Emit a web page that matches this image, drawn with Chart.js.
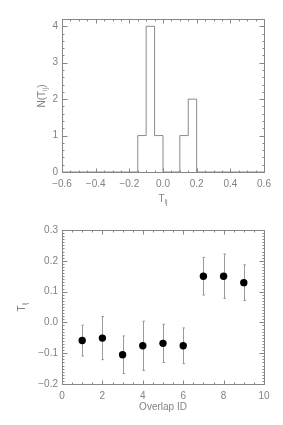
<!DOCTYPE html>
<html lang="en">
<head>
  <meta charset="UTF-8">
  <title>Overlap T_ij</title>
  <style>
    body {
      margin: 0;
      padding: 0;
      background: #fff;
      overflow: hidden;
    }
    canvas {
      position: absolute;
      left: 0;
    }
    #histChart { top: 0; }
    #overlapChart { top: 212px; }
  </style>
</head>
<body>
<canvas id="histChart" width="283" height="212"></canvas>
<canvas id="overlapChart" width="283" height="213"></canvas>

<script src="https://cdn.jsdelivr.net/npm/chart.js"></script>
<script>
  // histogram of T_ij (bin start -> count, stepped outline)
  const histEdges = [-0.6, -0.15, -0.10, -0.05, 0.00, 0.05, 0.10, 0.15, 0.20, 0.6];
  const histCounts = [0, 1, 4, 1, 0, 0, 1, 2, 0, 0];
  const histXTicks = [-0.6, -0.4, -0.2, 0.0, 0.2, 0.4, 0.6];
  const histYTicks = [0, 1, 2, 3, 4];

  // T_ij per overlap, with symmetric errors
  const overlapIds = [1, 2, 3, 4, 5, 6, 7, 8, 9];
  const tValues = [-0.059, -0.051, -0.105, -0.076, -0.068, -0.076, 0.150, 0.150, 0.129];
  const tErrors = [0.050, 0.070, 0.061, 0.080, 0.062, 0.058, 0.061, 0.072, 0.058];
  const idTicks = [0, 2, 4, 6, 8, 10];
  const tTicks = [-0.2, -0.1, 0.0, 0.1, 0.2, 0.3];

  const AXIS = '#878787';
  const TEXT = '#828282';
  const FONT = 'Liberation Sans, Arial, sans-serif';

  Chart.defaults.font.family = FONT;
  Chart.defaults.font.size = 10;
  Chart.defaults.color = TEXT;

  function fmt(v) {
    if (Math.abs(v) < 1e-9) return '0.0';
    return v.toFixed(1).replace('-', '\u2212');
  }

  // draws text made of normal and subscript parts, centred on (cx, cy)
  function drawParts(ctx, parts, cx, cy, rot) {
    ctx.save();
    ctx.translate(cx, cy);
    if (rot) ctx.rotate(rot);
    ctx.fillStyle = TEXT;
    ctx.textBaseline = 'middle';
    let w = 0;
    parts.forEach(p => {
      ctx.font = (p.sub ? 7 : 10) + 'px ' + FONT;
      p.w = ctx.measureText(p.t).width;
      w += p.w;
    });
    let x = -w / 2;
    parts.forEach(p => {
      ctx.font = (p.sub ? 7 : 10) + 'px ' + FONT;
      ctx.fillText(p.t, x, p.sub ? 3 : 0);
      x += p.w;
    });
    ctx.restore();
  }

  // IDL-like box: frame plus inward major/minor ticks on all four sides
  const boxAxes = {
    id: 'boxAxes',
    afterDraw(chart, args, opts) {
      const ctx = chart.ctx;
      const a = chart.chartArea;
      const xs = chart.scales.x, ys = chart.scales.y;
      ctx.save();
      ctx.strokeStyle = AXIS;
      ctx.lineWidth = 1;
      ctx.strokeRect(a.left + 0.5, a.top + 0.5, a.right - a.left, a.bottom - a.top);
      ctx.beginPath();
      const xTick = (v, len) => {
        const px = Math.round(xs.getPixelForValue(v)) + 0.5;
        ctx.moveTo(px, a.bottom + 0.5); ctx.lineTo(px, a.bottom + 0.5 - len);
        ctx.moveTo(px, a.top + 0.5); ctx.lineTo(px, a.top + 0.5 + len);
      };
      const yTick = (v, len) => {
        const py = Math.round(ys.getPixelForValue(v)) + 0.5;
        ctx.moveTo(a.left + 0.5, py); ctx.lineTo(a.left + 0.5 + len, py);
        ctx.moveTo(a.right + 0.5, py); ctx.lineTo(a.right + 0.5 - len, py);
      };
      for (let v = xs.min; v <= xs.max + 1e-9; v += opts.xMinor) xTick(v, 2);
      for (let v = ys.min; v <= ys.max + 1e-9; v += opts.yMinor) yTick(v, 2);
      xs.ticks.forEach(t => xTick(t.value, 4));
      ys.ticks.forEach(t => yTick(t.value, 5));
      ctx.stroke();
      (opts.titles || []).forEach(t => drawParts(ctx, t.parts, t.x, t.y, t.rot));
      ctx.restore();
    }
  };

  // vertical error bars drawn under the points
  const errorBars = {
    id: 'errorBars',
    beforeDatasetsDraw(chart) {
      const ctx = chart.ctx;
      const xs = chart.scales.x, ys = chart.scales.y;
      ctx.save();
      ctx.strokeStyle = '#9a9a9a';
      ctx.lineWidth = 1;
      ctx.beginPath();
      overlapIds.forEach((id, i) => {
        const px = Math.round(xs.getPixelForValue(id)) + 0.5;
        const top = ys.getPixelForValue(tValues[i] + tErrors[i]);
        const bot = ys.getPixelForValue(tValues[i] - tErrors[i]);
        ctx.moveTo(px, top); ctx.lineTo(px, bot);
        ctx.moveTo(px - 1, top); ctx.lineTo(px + 1.5, top);
        ctx.moveTo(px - 1, bot); ctx.lineTo(px + 1.5, bot);
      });
      ctx.stroke();
      ctx.restore();
    }
  };

  function axis(min, max, tickValues, format, isY, fitSize) {
    return {
      type: 'linear',
      min: min,
      max: max,
      grid: { display: false, drawTicks: false },
      border: { display: false },
      ticks: {
        padding: isY ? 4 : 6,
        color: TEXT,
        callback: format
      },
      afterBuildTicks: s => { s.ticks = tickValues.map(v => ({ value: v })); },
      afterFit: s => { if (isY) s.width = fitSize; else s.height = fitSize; }
    };
  }

  function renderHistogram() {
    const ctx = document.getElementById('histChart').getContext('2d');
    new Chart(ctx, {
      type: 'line',
      data: {
        datasets: [{
          data: histEdges.map((x, i) => ({ x: x, y: histCounts[i] })),
          stepped: true,
          borderColor: '#8a8a8a',
          borderWidth: 1,
          pointRadius: 0,
          fill: false
        }]
      },
      options: {
        responsive: false,
        animation: false,
        layout: { padding: { top: 19, right: 19, left: 0, bottom: 0 } },
        plugins: {
          legend: { display: false },
          tooltip: { enabled: false },
          boxAxes: {
            xMinor: 0.05,
            yMinor: 0.2,
            titles: [
              { parts: [{ t: 'T' }, { t: 'ij', sub: true }], x: 163, y: 199 },
              { parts: [{ t: 'N(T' }, { t: 'ij', sub: true }, { t: ')' }], x: 42, y: 96, rot: -Math.PI / 2 }
            ]
          }
        },
        scales: {
          x: axis(-0.6, 0.6, histXTicks, v => fmt(v), false, 40),
          y: axis(0, 4.2, histYTicks, v => String(v), true, 62)
        }
      },
      plugins: [boxAxes]
    });
  }

  function renderOverlaps() {
    const ctx = document.getElementById('overlapChart').getContext('2d');
    new Chart(ctx, {
      type: 'scatter',
      data: {
        datasets: [{
          data: overlapIds.map((id, i) => ({ x: id, y: tValues[i] })),
          backgroundColor: '#000',
          borderColor: '#000',
          pointRadius: 3.7,
          pointBorderWidth: 0
        }]
      },
      options: {
        responsive: false,
        animation: false,
        layout: { padding: { top: 18, right: 19, left: 0, bottom: 0 } },
        plugins: {
          legend: { display: false },
          tooltip: { enabled: false },
          boxAxes: {
            xMinor: 0.5,
            yMinor: 0.01,
            titles: [
              { parts: [{ t: 'Overlap ID' }], x: 163, y: 195 },
              { parts: [{ t: 'T' }, { t: 'ij', sub: true }], x: 22, y: 95, rot: -Math.PI / 2 }
            ]
          }
        },
        scales: {
          x: axis(0, 10, idTicks, v => String(v), false, 41),
          y: axis(-0.2, 0.3, tTicks, v => fmt(v), true, 62)
        }
      },
      plugins: [errorBars, boxAxes]
    });
  }

  renderHistogram();
  renderOverlaps();
</script>
</body>
</html>
